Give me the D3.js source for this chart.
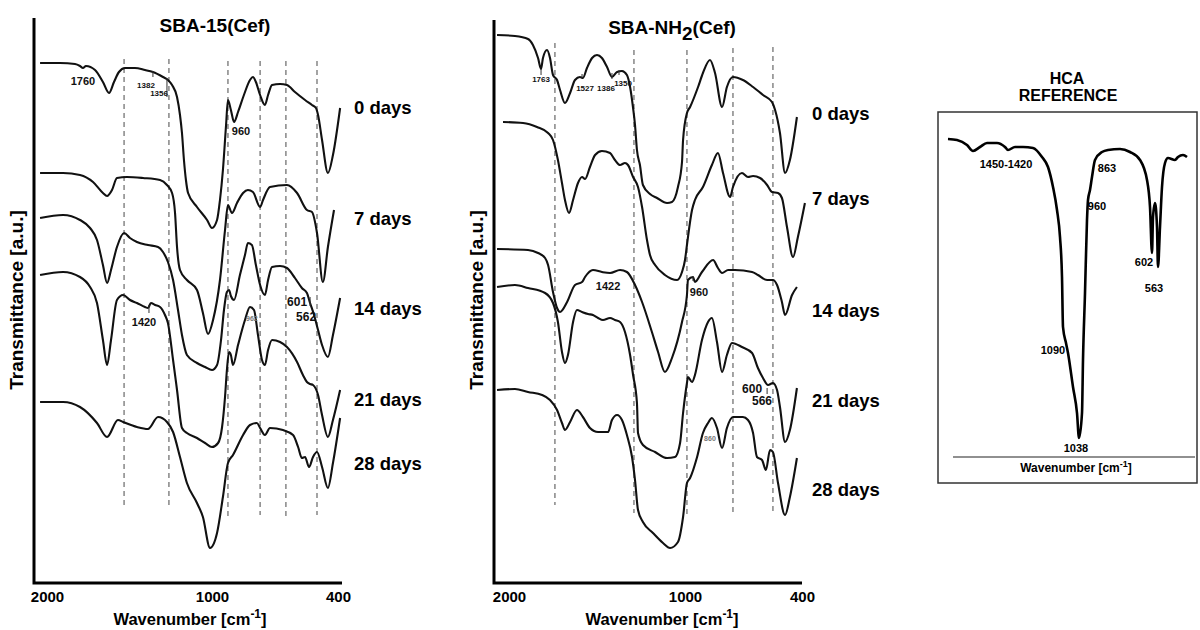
<!DOCTYPE html>
<html><head><meta charset="utf-8">
<script src="https://cdn.jsdelivr.net/npm/d3@7"></script>
<style>body{margin:0;background:#fff}svg{display:block}</style>
</head><body>
<svg id="c" width="1200" height="630"></svg>
<script>
const FONT = '"Liberation Sans", Arial, Helvetica, sans-serif';
const days = ["0 days","7 days","14 days","21 days","28 days"];
const xTicks = [2000,1000,400];

// ---- SBA-15(Cef) spectra: [wavenumber, transmittance a.u.] ----
const sba15_0 = [[2042,520],[1921,520],[1830,519],[1800,517],[1782,515],[1764,517],[1709,513],[1661,501],[1624,490],[1594,501],[1564,511],[1527,515],[1467,515],[1406,513],[1358,511],[1297,506],[1267,503],[1242,498],[1212,486],[1194,468],[1182,450],[1170,423],[1158,403],[1145,390],[1091,376],[1030,363],[1000,355],[976,363],[962,383],[948,413],[933,458],[924,483],[910,473],[895,461],[876,471],[848,488],[819,503],[805,506],[791,501],[771,488],[748,478],[733,488],[714,498],[676,499],[643,498],[605,491],[557,483],[524,478],[505,475],[495,468],[476,443],[448,410],[424,428],[390,475]];
const sba15_7 = [[2042,410],[1903,410],[1800,408],[1721,401],[1661,390],[1636,387],[1606,393],[1576,405],[1515,406],[1418,405],[1315,403],[1273,398],[1242,390],[1224,370],[1212,336],[1194,313],[1152,303],[1091,293],[1055,270],[1024,249],[995,263],[962,303],[938,353],[924,378],[905,370],[881,380],[852,390],[829,393],[805,391],[771,376],[757,383],[724,396],[643,398],[595,390],[548,373],[524,371],[500,350],[472,301],[448,336],[419,373]];
const sba15_14 = [[2042,365],[1903,368],[1800,363],[1739,355],[1697,343],[1661,318],[1636,300],[1612,313],[1576,336],[1533,350],[1497,345],[1455,341],[1388,338],[1327,336],[1297,331],[1267,321],[1236,303],[1206,273],[1182,248],[1152,228],[1091,220],[1042,216],[1000,213],[976,218],[957,243],[943,273],[929,291],[919,293],[910,287],[895,283],[867,308],[843,328],[829,340],[810,338],[791,318],[771,298],[748,288],[733,303],[714,316],[676,317],[643,315],[605,305],[572,295],[548,290],[533,280],[514,268],[495,253],[476,238],[448,226],[424,248],[390,285]];
const sba15_21 = [[2042,308],[1903,311],[1800,306],[1739,296],[1697,280],[1661,243],[1636,218],[1612,243],[1576,283],[1539,288],[1497,283],[1455,280],[1406,276],[1388,275],[1370,280],[1345,278],[1315,276],[1285,268],[1267,260],[1236,223],[1212,193],[1182,155],[1152,150],[1091,145],[1042,140],[1000,136],[971,140],[952,156],[938,186],[929,213],[919,231],[910,228],[900,218],[876,238],[843,263],[819,276],[800,273],[781,248],[762,223],[748,218],[733,233],[714,243],[676,241],[643,236],[595,221],[567,208],[548,201],[533,199],[519,198],[495,188],[476,168],[448,146],[424,163],[390,193]];
const sba15_28 = [[2042,181],[1903,181],[1800,176],[1697,160],[1636,146],[1570,163],[1539,161],[1455,156],[1388,154],[1327,166],[1273,161],[1236,151],[1194,126],[1152,100],[1091,80],[1055,66],[1012,35],[976,50],[948,86],[924,120],[900,128],[852,148],[819,158],[786,160],[771,155],[748,148],[724,155],[662,153],[614,148],[590,136],[572,125],[557,126],[538,116],[519,126],[500,131],[476,116],[448,95],[424,120],[390,165]];

// ---- SBA-NH2(Cef) spectra ----
const nh2_0 = [[2068,548],[1966,547],[1892,544],[1864,538],[1835,525],[1818,514],[1807,525],[1784,533],[1767,525],[1750,508],[1727,503],[1710,493],[1682,480],[1653,490],[1625,503],[1597,506],[1580,505],[1557,515],[1528,525],[1500,528],[1472,525],[1443,516],[1415,506],[1386,511],[1358,512],[1330,508],[1312,496],[1295,475],[1284,458],[1273,433],[1256,418],[1239,398],[1199,389],[1159,385],[1102,380],[1074,381],[1040,396],[1017,421],[1011,443],[990,470],[974,476],[933,496],[908,510],[872,523],[846,510],[810,476],[785,496],[754,506],[703,503],[651,496],[600,488],[554,481],[538,473],[513,450],[487,410],[462,423],[426,466]];
const nh2_7 = [[2034,461],[1920,460],[1841,456],[1778,450],[1750,443],[1722,423],[1699,400],[1682,383],[1659,370],[1636,383],[1608,400],[1585,406],[1568,404],[1540,416],[1511,428],[1472,432],[1426,430],[1398,423],[1369,418],[1341,420],[1324,418],[1295,406],[1267,396],[1244,376],[1216,343],[1199,328],[1170,318],[1114,308],[1045,303],[1017,311],[1000,323],[990,338],[964,373],[949,383],[908,396],[862,418],[831,430],[805,410],[769,386],[754,396],[708,410],[677,406],[651,407],[615,405],[579,398],[554,391],[523,390],[503,385],[477,356],[446,326],[421,346],[385,380]];
const nh2_14 = [[2068,334],[1892,333],[1835,330],[1795,325],[1778,318],[1750,291],[1727,275],[1710,271],[1670,281],[1625,298],[1585,301],[1568,306],[1523,313],[1472,311],[1426,310],[1369,313],[1330,311],[1284,298],[1244,281],[1188,251],[1153,231],[1114,211],[1074,225],[1017,261],[990,288],[985,303],[959,306],[949,301],[913,311],[856,323],[831,315],[810,310],[779,313],[744,313],[656,311],[626,308],[579,303],[549,303],[528,298],[503,281],[487,268],[451,288],[426,296]];
const nh2_21 = [[2068,296],[1966,298],[1892,295],[1795,290],[1750,280],[1722,261],[1699,231],[1682,220],[1665,228],[1636,261],[1614,273],[1585,271],[1551,269],[1523,268],[1494,265],[1466,263],[1426,265],[1398,263],[1369,261],[1341,251],[1312,228],[1295,208],[1273,180],[1267,150],[1239,138],[1170,131],[1102,125],[1057,126],[1028,140],[1011,170],[990,200],[985,206],[964,201],[949,208],[913,243],[882,261],[862,265],[836,241],[810,211],[785,228],[759,240],[708,236],[656,230],[626,215],[600,205],[574,198],[549,200],[528,193],[513,176],[487,141],[462,153],[426,195]];
const nh2_28 = [[2068,193],[1966,194],[1892,191],[1812,188],[1767,183],[1727,173],[1699,160],[1682,153],[1653,161],[1614,173],[1580,166],[1540,155],[1494,151],[1455,151],[1437,151],[1415,163],[1386,168],[1358,163],[1330,148],[1301,126],[1284,103],[1267,73],[1239,61],[1182,50],[1125,40],[1085,35],[1040,41],[1011,66],[990,100],[974,105],[938,126],[908,150],[882,160],[862,165],[836,155],[810,135],[785,155],[754,166],[703,166],[677,163],[651,150],[631,126],[605,123],[585,113],[564,133],[549,131],[523,100],[487,68],[462,86],[426,125]];

// ---- HCA reference spectrum ----
const hca = [[1828,311],[1774,310],[1714,305],[1678,299],[1636,303],[1594,307],[1534,307],[1486,303],[1468,300],[1426,303],[1378,303],[1318,302],[1264,293],[1228,283],[1198,263],[1174,240],[1156,213],[1144,173],[1138,123],[1120,107],[1108,97],[1078,63],[1054,37],[1042,12],[1024,37],[1018,90],[1006,157],[994,230],[988,250],[976,260],[964,273],[946,290],[904,298],[868,300],[796,301],[736,298],[676,290],[634,270],[616,243],[604,197],[598,233],[586,247],[574,223],[568,183],[556,223],[544,263],[526,287],[508,292],[466,290],[448,293],[418,295],[394,293]];

// dashed reference wavenumbers
const sba15Marks = [1533,1261,924,771,648,500];
const nh2Marks = [1739,1290,990,754,549];

// peak annotations: text, wavenumber, transmittance, kind
const sba15Notes = [["1760",1782,502,"m"],["1382",1400,498,"s"],["1356",1321,490,"s"],["960",862,452,"m"],["1420",1412,261,"m"],["962",810,265,"t"],["601",595,281,"l"],["562",552,266,"l"]];
const nh2Notes = [["1763",1818,504,"s"],["1527",1568,495,"s"],["1386",1449,495,"s"],["1350",1352,500,"s"],["1422",1437,297,"m"],["960",928,291,"m"],["600",656,194,"l"],["566",605,182,"l"],["860",872,145,"t"]];
const hcaNotes = [["1450-1420",1480,286],["863",874,282],["960",934,244],["602",652,188],["563",592,162],["1090",1198,100],["1038",1060,2]];
// small marker ticks: wavenumber, from, to
const sba15NoteTicks = [[1358,506,512],[1273,486,505],[1382,270,278],[533,277,286]];
const nh2NoteTicks = [[1818,508,514],[1585,505,509],[1415,504,510],[1375,508,513],[959,302,307],[579,189,195]];

const svg = d3.select("#c");
const yS = d3.scaleLinear().domain([0,560]).range([583,23]);
const noteStyle = {s:{size:8,fill:"#111"}, m:{size:11,fill:"#111"}, l:{size:12,fill:"#111"}, t:{size:7,fill:"#777"}};

function txt(g, x, y, s, size, opts={}) {
  return g.append("text").attr("x",x).attr("y",y).text(s)
    .attr("font-family",FONT).attr("font-weight","bold").attr("font-size",size)
    .attr("fill",opts.fill||"#000").attr("text-anchor",opts.anchor||"middle");
}

function drawPanel(o) {
  const g = svg.append("g");
  const x = d3.scaleLinear().domain(xTicks).range(o.range);
  o.marks.forEach((wn,i)=>{
    g.append("line").attr("x1",x(wn)).attr("x2",x(wn))
      .attr("y1",o.markTop[i]).attr("y2",o.markBot[i])
      .attr("stroke","#5a5a5a").attr("stroke-width",1.1).attr("stroke-dasharray","5,4");
  });
  const line = d3.line().x(d=>x(d[0])).y(d=>yS(d[1])).curve(d3.curveMonotoneX);
  o.series.forEach(s=>{
    g.append("path").attr("d",line(s)).attr("fill","none")
      .attr("stroke","#111").attr("stroke-width",2.1).attr("stroke-linejoin","round");
  });
  o.noteTicks.forEach(t=>{
    g.append("line").attr("x1",x(t[0])).attr("x2",x(t[0])).attr("y1",yS(t[1])).attr("y2",yS(t[2]))
      .attr("stroke","#333").attr("stroke-width",1);
  });
  o.notes.forEach(n=>{
    const st = noteStyle[n[3]];
    txt(g, x(n[1]), yS(n[2]), n[0], st.size, {fill:st.fill}).attr("dominant-baseline","central");
  });
  g.append("path").attr("d",`M${o.ax0},${o.axTop}V583H${o.ax1}`)
    .attr("fill","none").attr("stroke","#000").attr("stroke-width",3);
  const ax = g.append("g").attr("transform","translate(0,583)")
    .call(d3.axisBottom(x).tickValues(xTicks).tickSize(0).tickPadding(8).tickFormat(d3.format("d")));
  ax.select(".domain").remove();
  ax.selectAll("text").attr("font-size",15).attr("font-weight","bold")
    .attr("font-family",FONT).attr("fill","#000");
  const xl = txt(g, o.xLabelX, 625, "", 16.5);
  xl.append("tspan").text("Wavenumber [cm");
  xl.append("tspan").text("-1").attr("font-size",12).attr("dy",-7);
  xl.append("tspan").text("]").attr("dy",7);
  txt(g, 0, 0, "Transmittance [a.u.]", 19)
    .attr("transform",`translate(${o.yLabelX},300) rotate(-90)`).attr("dominant-baseline","central");
  const t = txt(g, o.titleX, o.titleY, "", 19);
  o.title.forEach(p=>{ t.append("tspan").text(p[0]).attr("dy",p[1]); });
  days.forEach((d,i)=>{
    txt(g, o.dayX, o.dayY[i] + 6.6, d, 18.5, {anchor:"start"});
  });
}

drawPanel({
  range:[47,212,338], ax0:34, ax1:342, axTop:18,
  marks:sba15Marks, markTop:[59,59,61,61,61,61], markBot:[505,506,517,515,516,515],
  series:[sba15_0,sba15_7,sba15_14,sba15_21,sba15_28],
  notes:sba15Notes, noteTicks:sba15NoteTicks,
  xLabelX:190, yLabelX:16,
  title:[["SBA-15(Cef)",0]], titleX:215, titleY:32,
  dayX:354, dayY:[107,218,308,399,463]
});
drawPanel({
  range:[509,685,802], ax0:494, ax1:802, axTop:20,
  marks:nh2Marks, markTop:[43,50,50,48,47], markBot:[505,513,517,512,511],
  series:[nh2_0,nh2_7,nh2_14,nh2_21,nh2_28],
  notes:nh2Notes, noteTicks:nh2NoteTicks,
  xLabelX:662, yLabelX:476,
  title:[["SBA-NH",0],["2",6],["(Cef)",-6]], titleX:672, titleY:34,
  dayX:812, dayY:[113,198,310,400,489]
});

(function(){
  const g = svg.append("g");
  const xH = d3.scaleLinear().domain([1900,400]).range([936,1186]);
  const yH = d3.scaleLinear().domain([0,330]).range([450,120]);
  txt(g, 1067, 84, "HCA", 16);
  txt(g, 1068, 101, "REFERENCE", 16);
  g.append("rect").attr("x",938).attr("y",112).attr("width",259).attr("height",371)
    .attr("fill","none").attr("stroke","#333").attr("stroke-width",1.5);
  g.append("line").attr("x1",953).attr("x2",1195).attr("y1",457).attr("y2",457)
    .attr("stroke","#222").attr("stroke-width",1.2);
  const xl = txt(g, 1076, 472, "", 12);
  xl.append("tspan").text("Wavenumber [cm");
  xl.append("tspan").text("-1").attr("font-size",9).attr("dy",-5);
  xl.append("tspan").text("]").attr("dy",5);
  const line = d3.line().x(d=>xH(d[0])).y(d=>yH(d[1])).curve(d3.curveMonotoneX);
  g.append("path").attr("d",line(hca)).attr("fill","none").attr("stroke","#000")
    .attr("stroke-width",2.6).attr("stroke-linejoin","round");
  hcaNotes.forEach(n=>{
    txt(g, xH(n[1]), yH(n[2]), n[0], 11).attr("dominant-baseline","central");
  });
})();
</script>
</body></html>
